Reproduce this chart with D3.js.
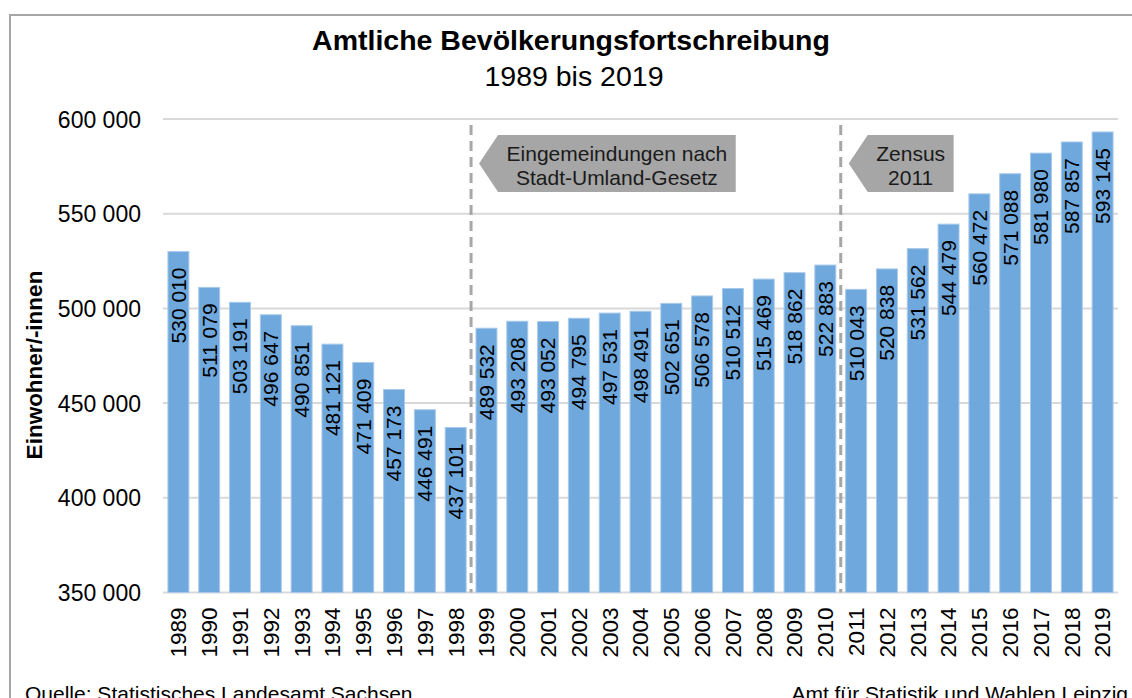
<!DOCTYPE html>
<html>
<head>
<meta charset="utf-8">
<script src="https://cdn.jsdelivr.net/npm/d3@7"></script>
<style>
    body { margin: 0; background: #fff; }
    svg { display: block; font-family: "Liberation Sans", Arial, sans-serif; }
</style>
</head>
<body>
<svg id="chart" width="1132" height="698"></svg>
<script>
const years = d3.range(1989, 2020).map(String);
const population = [
    530010, 511079, 503191, 496647, 490851, 481121, 471409, 457173, 446491, 437101,
    489532, 493208, 493052, 494795, 497531, 498491, 502651, 506578, 510512, 515469,
    518862, 522883, 510043, 520838, 531562, 544479, 560472, 571088, 581980, 587857,
    593145
];
const yTicks = [350000, 400000, 450000, 500000, 550000, 600000];
const markers = [
    { year: '1999', lines: ['Eingemeindungen nach', 'Stadt-Umland-Gesetz'] },
    { year: '2011', lines: ['Zensus', '2011'] }
];

const locale = d3.formatLocale({ decimal: ',', thousands: ' ', grouping: [3], currency: ['', ''] });
const fmt = locale.format(',d');

const svg = d3.select('#chart');
const margin = { left: 163, right: 14, top: 119, bottom: 105 };
const width = 1132, height = 698;

const x = d3.scaleBand()
    .domain(years)
    .range([margin.left, width - margin.right])
    .paddingInner(0.32)
    .paddingOuter(0.16);

const y = d3.scaleLinear()
    .domain([350000, 600000])
    .range([height - margin.bottom - 0.5, margin.top]);

// frame (cropped on right/bottom)
svg.append('rect')
    .attr('x', 10).attr('y', 15)
    .attr('width', 1140).attr('height', 700)
    .attr('fill', 'none')
    .attr('stroke', '#a6a6a6')
    .attr('stroke-width', 2);

// title
svg.append('text')
    .attr('x', 571).attr('y', 50)
    .attr('text-anchor', 'middle')
    .style('font-size', '28.5px')
    .style('font-weight', 'bold')
    .text('Amtliche Bevölkerungsfortschreibung');
svg.append('text')
    .attr('x', 574).attr('y', 86)
    .attr('text-anchor', 'middle')
    .style('font-size', '28.5px')
    .text('1989 bis 2019');

// gridlines
svg.append('g')
    .selectAll('line')
    .data(yTicks)
    .join('line')
    .attr('x1', margin.left).attr('x2', width - margin.right)
    .attr('y1', d => y(d)).attr('y2', d => y(d))
    .attr('stroke', '#d9d9d9')
    .attr('stroke-width', 2);

// y axis labels
const yAxis = svg.append('g')
    .attr('transform', `translate(${margin.left - 22},0)`)
    .call(d3.axisLeft(y).tickValues(yTicks).tickFormat(fmt).tickSize(0).tickPadding(0));
yAxis.select('.domain').remove();
yAxis.selectAll('text')
    .attr('fill', '#000')
    .attr('dy', '0.35em')
    .style('font-size', '23px')
    .style('font-family', '"Liberation Sans", Arial, sans-serif');

// y title
svg.append('text')
    .attr('transform', 'translate(42,365) rotate(-90)')
    .attr('text-anchor', 'middle')
    .style('font-size', '22.5px')
    .style('font-weight', 'bold')
    .text('Einwohner/-innen');

// bars
svg.append('g')
    .selectAll('rect')
    .data(population)
    .join('rect')
    .attr('x', (d, i) => x(years[i]))
    .attr('width', x.bandwidth())
    .attr('y', d => y(d))
    .attr('height', d => y(350000) - y(d))
    .attr('fill', '#6fa8dc')
    .attr('stroke', '#a8c9ea')
    .attr('stroke-width', 1);

// value labels
svg.append('g')
    .selectAll('text')
    .data(population)
    .join('text')
    .attr('transform', (d, i) => `translate(${x(years[i]) + x.bandwidth() / 2},${y(d) + 16}) rotate(-90)`)
    .attr('text-anchor', 'end')
    .attr('dy', '0.35em')
    .style('font-size', '21px')
    .text(d => fmt(d));

// x axis labels
svg.append('g')
    .selectAll('text')
    .data(years)
    .join('text')
    .attr('transform', d => `translate(${x(d) + x.bandwidth() / 2},${y(350000) + 15}) rotate(-90)`)
    .attr('text-anchor', 'end')
    .attr('dy', '0.35em')
    .style('font-size', '22.5px')
    .text(d => d);

// marker lines and callouts
const gap = x.step() * x.paddingInner() / 2;
markers.forEach(m => {
    const lx = x(m.year) - gap;
    svg.append('line')
        .attr('x1', lx).attr('x2', lx)
        .attr('y1', margin.top + 6).attr('y2', y(350000))
        .attr('stroke', '#a6a6a6')
        .attr('stroke-width', 3)
        .attr('stroke-dasharray', '10,6');

    const lineH = 24;
    const g = svg.append('g');
    const label = g.selectAll('text')
        .data(m.lines)
        .join('text')
        .attr('text-anchor', 'middle')
        .attr('fill', '#1a1a1a')
        .style('font-size', '21px')
        .text(s => s);
    // measure text to size the box
    let tw = 0;
    label.each(function () { tw = Math.max(tw, this.getComputedTextLength()); });
    const tip = lx + 8, bx = tip + 19, bw = tw + 17;
    const top = margin.top + 16, bh = m.lines.length * lineH + 9;
    const midY = top + bh / 2;
    g.insert('path', 'text')
        .attr('d', `M${tip},${midY} L${bx},${top} L${bx + bw},${top} L${bx + bw},${top + bh} L${bx},${top + bh} Z`)
        .attr('fill', '#a6a6a6');
    label
        .attr('x', bx + bw / 2)
        .attr('y', (s, i) => top + 26 + i * lineH);
});

// footer (cut by the bottom edge, as in the source)
svg.append('text')
    .attr('x', 25).attr('y', 701)
    .style('font-size', '21px')
    .text('Quelle: Statistisches Landesamt Sachsen');
svg.append('text')
    .attr('x', 1128).attr('y', 701)
    .attr('text-anchor', 'end')
    .style('font-size', '21px')
    .text('Amt für Statistik und Wahlen Leipzig');
</script>
</body>
</html>
